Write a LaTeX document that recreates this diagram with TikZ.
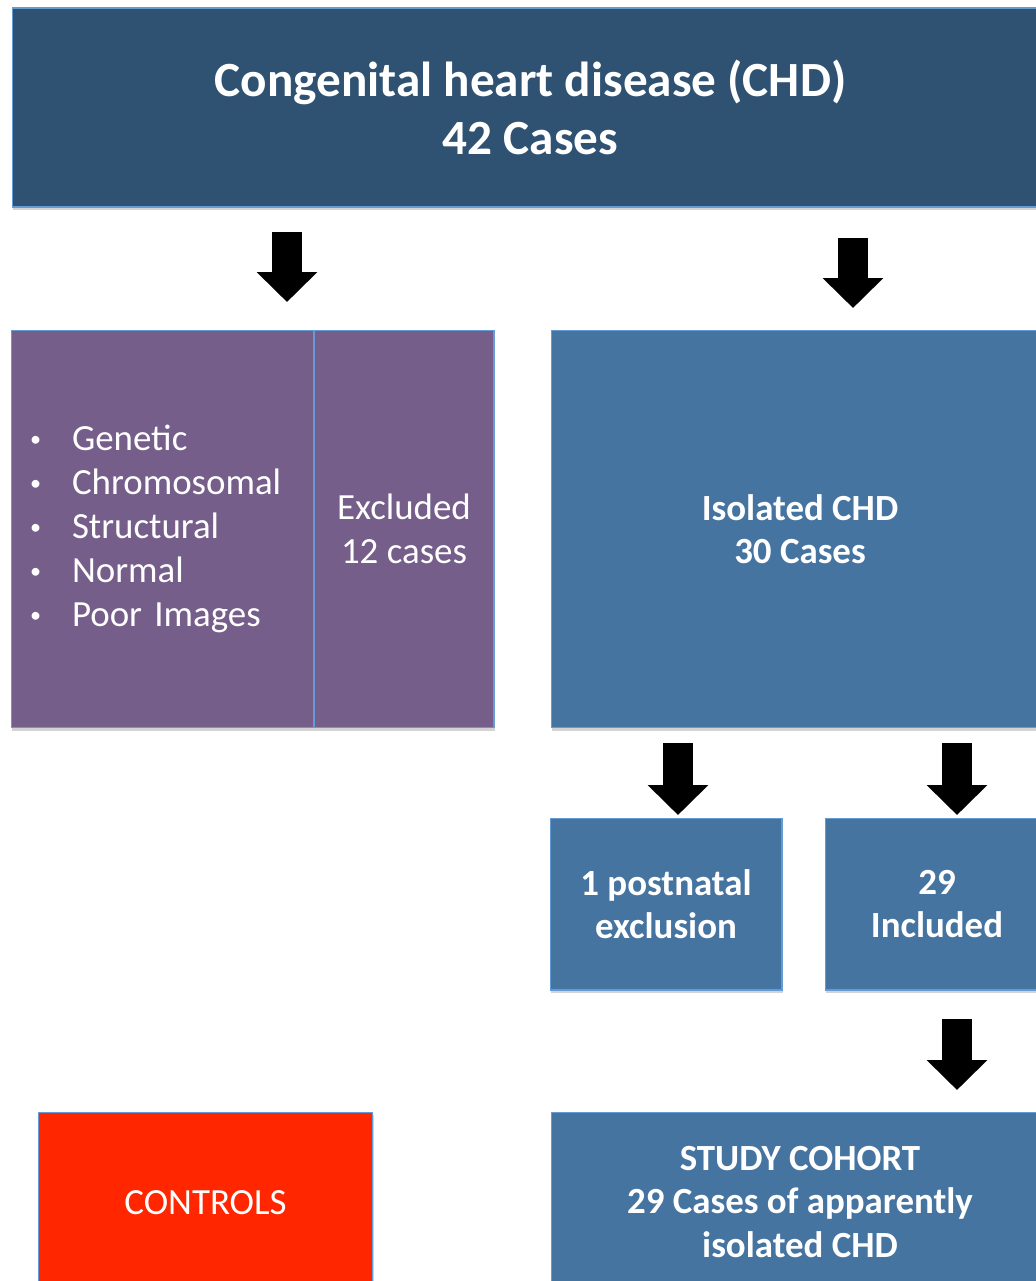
\documentclass[tikz,border=0pt]{standalone}
\usepackage{fontspec}
\setmainfont{Carlito}
\usepackage{tikz}
\usetikzlibrary{arrows.meta,shadows}
\definecolor{navy}{RGB}{47,82,115}
\definecolor{steel}{RGB}{70,116,160}
\definecolor{plum}{RGB}{118,94,138}
\definecolor{ctrlred}{RGB}{255,38,0}
\definecolor{edge}{RGB}{100,155,212}
\newcommand{\blt}{\makebox[0.94cm][l]{\hspace{0.1cm}\raisebox{0.12em}{\scalebox{0.6}{\textbullet}}}}

\begin{document}
\begin{tikzpicture}[x=0.02cm,y=-0.02cm,
    box/.style={rectangle,draw=edge,line width=0.6pt,text=white,align=center,inner sep=0pt,
        drop shadow={shadow xshift=0.6pt,shadow yshift=-1.6pt,opacity=0.35}},
    txt/.style={font=\fontsize{21}{25}\selectfont},
    btxt/.style={font=\bfseries\fontsize{21}{24.5}\selectfont},
    bigarrow/.style={line width=0.6cm,-{Triangle[width=1.18cm,length=0.6cm]}}]
        \useasboundingbox (0,0) rectangle (1035,1281);

        \node[box,fill=navy,minimum width=20.74cm,minimum height=3.98cm,
            font=\bfseries\fontsize{28}{33}\selectfont] (chd) at (530.5,107.5)
            {Congenital heart disease (CHD)\\42 Cases};

        \node[box,fill=plum,txt,minimum width=6.06cm,minimum height=7.96cm,
            text width=5.5cm,align=left] (list) at (162.5,529)
            {\blt\mbox{Genetic}\\
             \blt\mbox{Chromosomal}\\
             \blt\mbox{Structural}\\
             \blt\mbox{Normal}\\
             \blt\mbox{Poor Images}};
        \node[box,fill=plum,txt,minimum width=3.6cm,minimum height=7.96cm] (excl) at (404,529)
            {Excluded\\12 cases};

        \node[box,fill=steel,btxt,minimum width=9.96cm,minimum height=7.96cm] (iso) at (800,529)
            {Isolated CHD\\30 Cases};

        \node[box,fill=steel,btxt,minimum width=4.64cm,minimum height=3.44cm] (post) at (666,904)
            {1 postnatal\\exclusion};
        \node[box,fill=steel,btxt,minimum width=4.48cm,minimum height=3.44cm] (incl) at (937,904)
            {29\\Included};

        \node[box,fill=ctrlred,txt,minimum width=6.7cm,minimum height=3.64cm] (ctrl) at (205.5,1203)
            {CONTROLS};
        \node[box,fill=steel,btxt,minimum width=9.96cm,minimum height=3.6cm,
            font=\bfseries\fontsize{21}{25}\selectfont] (cohort) at (800,1202)
            {STUDY COHORT\\29 Cases of apparently\\isolated CHD};

        % block arrows between the boxes
        \coordinate (a1) at (287,232);  \coordinate (b1) at (287,302);
        \coordinate (a2) at (853,238);  \coordinate (b2) at (853,308);
        \coordinate (a3) at (678,743);  \coordinate (b3) at (678,815);
        \coordinate (a4) at (957,743);  \coordinate (b4) at (957,815);
        \coordinate (a5) at (957,1019); \coordinate (b5) at (957,1090);

        \draw[bigarrow] (a1) -- (b1);
        \draw[bigarrow] (a2) -- (b2);
        \draw[bigarrow] (a3) -- (b3);
        \draw[bigarrow] (a4) -- (b4);
        \draw[bigarrow] (a5) -- (b5);
    \end{tikzpicture}
\end{document}
